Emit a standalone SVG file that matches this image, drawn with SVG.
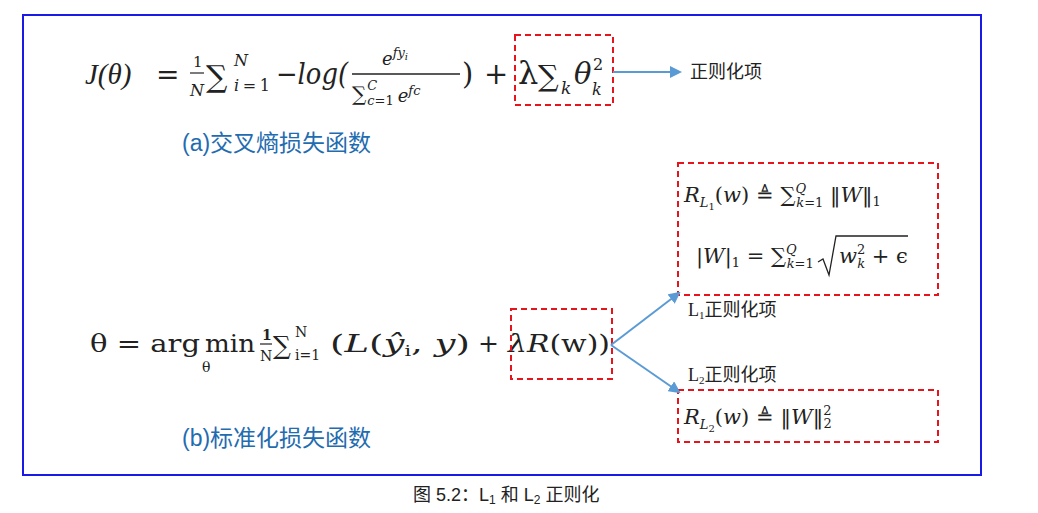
<svg xmlns="http://www.w3.org/2000/svg" width="1038" height="513" viewBox="0 0 1038 513">
<style>
.m{font-family:"DejaVu Serif","Liberation Serif",serif;fill:#222}
.i{font-style:italic}
.cap{font-family:"Liberation Sans","Noto Sans CJK SC",sans-serif;fill:#1f6cb0;font-size:23px}
.lab{font-family:"Liberation Serif","Noto Sans CJK SC",serif;fill:#222;font-size:18px}
.box{fill:none;stroke:#e8141c;stroke-width:2;stroke-dasharray:6,4}
.con{stroke:#5b9bd5;stroke-width:2;fill:none}
</style>
<defs><marker id="ah" markerWidth="12" markerHeight="12" refX="10" refY="6" orient="auto" markerUnits="userSpaceOnUse"><path d="M0,0L12,6L0,12z" fill="#5b9bd5"/></marker></defs>
<rect x="23" y="15" width="958" height="460" fill="none" stroke="#1a1ae6" stroke-width="2"/>
<g id="formula-a" class="m">
<text x="85" y="84" font-size="29" class="i" font-family="Liberation Serif">J(θ)</text>
<text x="156" y="84" font-size="28">=</text>
<text x="193" y="67" font-size="15">1</text>
<line x1="190" y1="73" x2="204" y2="73" stroke="#222" stroke-width="1.2"/>
<text x="190" y="96" font-size="16" class="i">N</text>
<text x="206" y="87" font-size="30">∑</text>
<text x="234" y="66" font-size="16" class="i">N</text>
<text x="234" y="91" font-size="16" textLength="36"><tspan class="i">i</tspan>=1</text>
<text x="276" y="84" font-size="29" class="i" textLength="72" lengthAdjust="spacingAndGlyphs">−log(</text>
<text x="382" y="65" font-size="18" class="i">e<tspan font-size="13" dy="-8">fy</tspan><tspan font-size="10" dy="3">i</tspan></text>
<line x1="352" y1="74" x2="460" y2="74" stroke="#222" stroke-width="1.5"/>
<text x="352" y="101" font-size="20">∑<tspan font-size="13" class="i" dx="1" dy="-11">C</tspan><tspan font-size="13" dx="-10" dy="15"><tspan class="i">c</tspan>=1</tspan><tspan font-size="18" class="i" dx="4" dy="-3">e</tspan><tspan font-size="13" class="i" dy="-7">fc</tspan></text>
<text x="462" y="84" font-size="29">)</text>
<text x="484" y="84" font-size="29">+</text>
<text x="518" y="84" font-size="32">λ</text>
<text x="538" y="86" font-size="29">∑</text>
<text x="561" y="94" font-size="17" class="i">k</text>
<text x="574" y="84" font-size="29" class="i">θ</text>
<text x="593" y="70" font-size="16">2</text>
<text x="592" y="95" font-size="16" class="i">k</text>
</g>
<g id="box-a"><rect class="box" x="515" y="35" width="98" height="70"/></g>
<g id="label-a"><text class="lab" x="690" y="78">正则化项</text></g>
<g id="caption-a"><text class="cap" x="182" y="151">(a)交叉熵损失函数</text></g>
<g id="formula-b" class="m">
<text x="90" y="352" font-size="25" textLength="110" lengthAdjust="spacingAndGlyphs">θ = arg</text>
<text x="205" y="352" font-size="25" textLength="50" lengthAdjust="spacingAndGlyphs">min</text>
<text x="202" y="372" font-size="14">θ</text>
<text x="262" y="340" font-size="14" font-weight="bold">1</text>
<line x1="260" y1="344" x2="272" y2="344" stroke="#222" stroke-width="1.2"/>
<text x="260" y="361" font-size="14">N</text>
<text x="273" y="354" font-size="25">∑</text>
<text x="295" y="337" font-size="14">N</text>
<text x="295" y="360" font-size="14">i=1</text>
<text x="330" y="352" font-size="25" textLength="140" lengthAdjust="spacingAndGlyphs">(<tspan class="i">L</tspan>(<tspan class="i">ŷ</tspan><tspan font-size="14" dy="4">i</tspan><tspan dy="-4">,</tspan> <tspan class="i">y</tspan>)</text>
<text x="478" y="352" font-size="25">+</text>
<text x="508" y="352" font-size="25" textLength="102" lengthAdjust="spacingAndGlyphs"><tspan class="i">λR</tspan>(w))</text>
</g>
<g id="box-b"><rect class="box" x="511" y="309" width="101" height="70"/></g>
<g id="caption-b"><text class="cap" x="182" y="446">(b)标准化损失函数</text></g>
<g id="box-l1">
<rect class="box" x="678" y="163" width="260" height="132"/>
<text class="m" x="684" y="202" font-size="21"><tspan class="i">R</tspan><tspan class="i" font-size="13" dy="5">L</tspan><tspan font-size="10" dy="3">1</tspan><tspan dy="-8">(</tspan><tspan class="i">w</tspan>) ≜ ∑<tspan font-size="13" class="i" dy="-9">Q</tspan><tspan font-size="13" dx="-10" dy="14"><tspan class="i">k</tspan>=1</tspan><tspan dy="-5"> ‖</tspan><tspan class="i">W</tspan>‖<tspan font-size="13" dy="4">1</tspan></text>
<text class="m" x="696" y="263" font-size="21">|<tspan class="i">W</tspan>|<tspan font-size="13" dy="4">1</tspan><tspan dy="-4"> = ∑</tspan><tspan font-size="13" class="i" dy="-9">Q</tspan><tspan font-size="13" dx="-10" dy="14"><tspan class="i">k</tspan>=1</tspan></text>
<path d="M818,262 L823,259 L829,275 L836,236 L908,236" fill="none" stroke="#222" stroke-width="1.3"/>
<text class="m" x="839" y="263" font-size="21"><tspan class="i">w</tspan><tspan font-size="13" dy="-9">2</tspan><tspan font-size="13" class="i" dx="-8" dy="14">k</tspan><tspan dy="-5"> + ϵ</tspan></text>
</g>
<g id="box-l2">
<rect class="box" x="678" y="390" width="260" height="52"/>
<text class="m" x="684" y="424" font-size="21"><tspan class="i">R</tspan><tspan class="i" font-size="13" dy="5">L</tspan><tspan font-size="10" dy="3">2</tspan><tspan dy="-8">(</tspan><tspan class="i">w</tspan>) ≜ ‖<tspan class="i">W</tspan>‖<tspan font-size="13" dy="-9">2</tspan><tspan font-size="13" dx="-8" dy="13">2</tspan></text>
</g>
<g id="label-l1"><text class="lab" x="688" y="316">L<tspan font-size="11" dy="3">1</tspan><tspan dy="-3">正则化项</tspan></text></g>
<g id="label-l2"><text class="lab" x="688" y="381">L<tspan font-size="11" dy="3">2</tspan><tspan dy="-3">正则化项</tspan></text></g>
<g id="connectors">
<line class="con" x1="613" y1="72" x2="680" y2="72" marker-end="url(#ah)"/>
<line class="con" x1="611" y1="345" x2="679" y2="293" marker-end="url(#ah)"/>
<line class="con" x1="611" y1="345" x2="679" y2="392" marker-end="url(#ah)"/>
</g>
<text x="413" y="501" font-family="Liberation Sans,Noto Sans CJK SC,sans-serif" font-size="18" fill="#222">图 5.2：L<tspan font-size="12" dy="3">1</tspan><tspan dy="-3"> 和 L</tspan><tspan font-size="12" dy="3">2</tspan><tspan dy="-3"> 正则化</tspan></text>
</svg>
